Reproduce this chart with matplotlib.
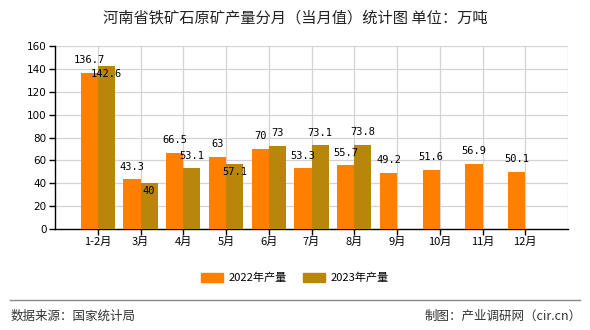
import matplotlib
matplotlib.use('Agg')
import matplotlib.pyplot as plt
from matplotlib.patches import Patch
from matplotlib.lines import Line2D
import numpy as np

plt.rcParams['font.family'] = ['Noto Sans CJK SC', 'DejaVu Sans']

# data
months = ['1-2月', '3月', '4月', '5月', '6月', '7月', '8月', '9月', '10月', '11月', '12月']
prod_2022 = [136.7, 43.3, 66.5, 63, 70, 53.3, 55.7, 49.2, 51.6, 56.9, 50.1]
prod_2023 = [142.6, 40, 53.1, 57.1, 73, 73.1, 73.8]
series_names = ['2022年产量', '2023年产量']
yticks = [0, 20, 40, 60, 80, 100, 120, 140, 160]

# label placement for 2023 bars (pushed inside when it would hit the 2022 label)
label_2023_inside = [True, True, False, True, False, False, False]

ORANGE = '#FF8000'
GOLD = '#B8860B'
GRID = '#D3D3D3'

fig = plt.figure(figsize=(5.9, 3.3), dpi=100)
ax = fig.add_axes([55 / 590, 101 / 330, 513 / 590, 183 / 330])

x = np.arange(1, len(months) + 1)
w = 0.4
x22 = x - w / 2
x23 = x[:len(prod_2023)] + w / 2

ax.bar(x22, prod_2022, width=w, color=ORANGE, zorder=3)
ax.bar(x23, prod_2023, width=w, color=GOLD, zorder=3)

mono = 'DejaVu Sans Mono'
for xi, v in zip(x22, prod_2022):
    ax.annotate(f'{v:g}', (xi, v), xytext=(0, 9), textcoords='offset points',
                ha='center', va='center', fontsize=7.5, family=mono, zorder=5)
for xi, v, inside in zip(x23, prod_2023, label_2023_inside):
    dy = -5.8 if inside else 9
    ax.annotate(f'{v:g}', (xi, v), xytext=(0, dy), textcoords='offset points',
                ha='center', va='center', fontsize=7.5, family=mono, zorder=5)

ax.set_xlim(0, 12)
ax.set_ylim(0, 160)
ax.set_yticks(yticks)
ax.set_yticklabels([str(t) for t in yticks], fontsize=7.5, family='DejaVu Sans')
ax.set_xticks(x)
ax.set_xticklabels(months, fontsize=8)

# grid
for t in yticks[1:]:
    ax.axhline(t, color=GRID, lw=0.9, zorder=1)
for xi in list(x) + [12]:
    ax.axvline(xi, color=GRID, lw=0.9, zorder=1)

for s in ['top', 'right']:
    ax.spines[s].set_visible(False)
ax.spines['left'].set_linewidth(1.0)
ax.spines['bottom'].set_linewidth(1.0)
ax.tick_params(axis='both', direction='out', length=4, width=1, pad=2, colors='black')

# title
fig.text(0.5, 1 - 18 / 330, '河南省铁矿石原矿产量分月（当月值）统计图 单位：万吨',
         ha='center', va='center', fontsize=11, color='#222222')

# legend
handles = [Patch(color=ORANGE), Patch(color=GOLD)]
fig.legend(handles, series_names, loc='center', bbox_to_anchor=(0.5, 1 - 278 / 330),
           ncol=2, frameon=False, fontsize=8, handlelength=2.0, handleheight=0.8,
           handletextpad=0.5, columnspacing=1.4)

# footer
fig.add_artist(Line2D([10 / 590, 580 / 590], [1 - 300 / 330] * 2, color='#888888', lw=1))
fig.text(11 / 590, 1 - 316 / 330, '数据来源：国家统计局', ha='left', va='center',
         fontsize=9, color='#333333')
fig.text(582 / 590, 1 - 316 / 330, '制图：产业调研网（cir.cn）', ha='right', va='center',
         fontsize=9, color='#333333')

fig.savefig('out.png', dpi=100, facecolor='white')
plt.close(fig)
